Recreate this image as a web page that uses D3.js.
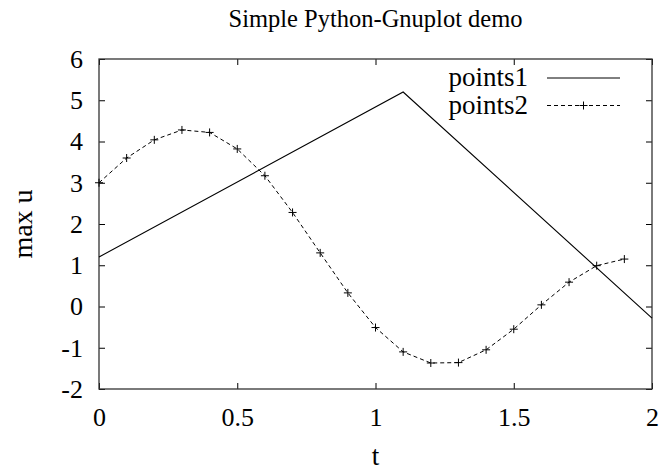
<!DOCTYPE html>
<html>
<head>
<meta charset="utf-8">
<script src="https://cdn.jsdelivr.net/npm/d3@7"></script>
<style>
  body { margin: 0; background: #fff; }
  svg text { font-family: "Liberation Serif", "DejaVu Serif", serif; fill: #000; }
</style>
</head>
<body>
<svg width="659" height="468"></svg>
<script>
// data
const title = 'Simple Python-Gnuplot demo';
const xLabel = 't';
const yLabel = 'max u';

const points1T = [0, 1.1, 2];
const points1U = [1.2, 5.2, -0.28];

const points2T = [0, 0.1, 0.2, 0.3, 0.4, 0.5, 0.6, 0.7, 0.8, 0.9,
  1.0, 1.1, 1.2, 1.3, 1.4, 1.5, 1.6, 1.7, 1.8, 1.9];
const points2U = [3.0, 3.6, 4.04, 4.28, 4.22, 3.82, 3.17, 2.28, 1.3, 0.33,
  -0.51, -1.1, -1.37, -1.36, -1.05, -0.55, 0.04, 0.59, 0.99, 1.15];

const xTicks = [0, 0.5, 1, 1.5, 2];
const yTicks = [-2, -1, 0, 1, 2, 3, 4, 5, 6];

const svg = d3.select('svg');
const margin = {left: 99, right: 7, top: 59, bottom: 79};
const W = 659, H = 468;

const x = d3.scaleLinear().domain([0, 2]).range([margin.left, W - margin.right]);
const y = d3.scaleLinear().domain([-2, 6]).range([H - margin.bottom, margin.top]);

const tickFont = 26;
const labelFont = 27;
const titleFont = 24.5;
const tickLen = 6;
const fmt = d => String(d);

// ticks (inward, mirrored on top and right)
const g = svg.append('g').attr('class', 'axes');

g.append('g')
  .attr('transform', `translate(0,${y(-2)})`)
  .call(d3.axisBottom(x).tickValues(xTicks).tickSizeInner(-tickLen).tickSizeOuter(0).tickFormat(fmt))
  .call(a => a.select('.domain').remove())
  .call(a => a.selectAll('text').attr('y', 37).attr('dy', null));

g.append('g')
  .attr('transform', `translate(0,${y(6)})`)
  .call(d3.axisTop(x).tickValues(xTicks).tickSizeInner(-tickLen).tickSizeOuter(0).tickFormat(''))
  .call(a => a.select('.domain').remove());

g.append('g')
  .attr('transform', `translate(${x(0)},0)`)
  .call(d3.axisLeft(y).tickValues(yTicks).tickSizeInner(-tickLen).tickSizeOuter(0).tickFormat(fmt))
  .call(a => a.select('.domain').remove())
  .call(a => a.selectAll('text').attr('x', -16));

g.append('g')
  .attr('transform', `translate(${x(2)},0)`)
  .call(d3.axisRight(y).tickValues(yTicks).tickSizeInner(-tickLen).tickSizeOuter(0).tickFormat(''))
  .call(a => a.select('.domain').remove());

g.selectAll('g').attr('font-family', null).attr('font-size', null);
g.selectAll('.tick line').attr('stroke', '#000');
g.selectAll('.tick text')
  .attr('fill', '#000')
  .style('font-family', '"Liberation Serif", serif')
  .style('font-size', tickFont + 'px');

// border
svg.append('rect')
  .attr('x', x(0)).attr('y', y(6))
  .attr('width', x(2) - x(0)).attr('height', y(-2) - y(6))
  .attr('fill', 'none').attr('stroke', '#333').attr('stroke-width', 1.3);

// title and labels
svg.append('text')
  .attr('x', (x(0) + x(2)) / 2).attr('y', 27)
  .attr('text-anchor', 'middle')
  .style('font-size', titleFont + 'px')
  .text(title);

svg.append('text')
  .attr('x', (x(0) + x(2)) / 2).attr('y', 465)
  .attr('text-anchor', 'middle')
  .style('font-size', labelFont + 'px')
  .text(xLabel);

svg.append('text')
  .attr('transform', `translate(32,${(y(-2) + y(6)) / 2}) rotate(-90)`)
  .attr('text-anchor', 'middle')
  .style('font-size', (labelFont + 1) + 'px')
  .text(yLabel);

// series
const line = d3.line().x(d => x(d[0])).y(d => y(d[1]));
const s1 = points1T.map((t, i) => [t, points1U[i]]);
const s2 = points2T.map((t, i) => [t, points2U[i]]);

svg.append('path')
  .datum(s1)
  .attr('d', line)
  .attr('fill', 'none').attr('stroke', '#000').attr('stroke-width', 1.1);

svg.append('path')
  .datum(s2)
  .attr('d', line)
  .attr('fill', 'none').attr('stroke', '#000').attr('stroke-width', 1)
  .attr('stroke-dasharray', '4,3');

const plus = (sel, px, py) => {
  sel.append('path')
    .attr('d', `M${px - 4},${py}H${px + 4}M${px},${py - 4}V${py + 4}`)
    .attr('stroke', '#000').attr('stroke-width', 1);
};

const marks = svg.append('g');
s2.forEach(d => plus(marks, x(d[0]), y(d[1])));

// legend
const legend = svg.append('g');
const legX = 528, lineX0 = 547, lineX1 = 620;
const rows = [{name: 'points1', dash: null, mark: false}, {name: 'points2', dash: '4,3', mark: true}];
rows.forEach((r, i) => {
  const ly = 78 + i * 27.5;
  legend.append('text')
    .attr('x', legX).attr('y', ly).attr('dy', '0.31em')
    .attr('text-anchor', 'end')
    .style('font-size', labelFont + 'px')
    .text(r.name);
  legend.append('line')
    .attr('x1', lineX0).attr('x2', lineX1).attr('y1', ly).attr('y2', ly)
    .attr('stroke', '#000').attr('stroke-width', 1)
    .attr('stroke-dasharray', r.dash);
  if (r.mark) plus(legend, (lineX0 + lineX1) / 2, ly);
});
</script>
</body>
</html>
